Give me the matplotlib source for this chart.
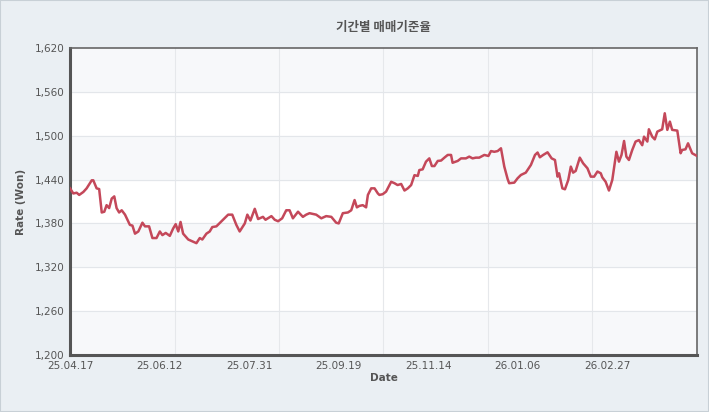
import matplotlib.pyplot as plt
from matplotlib.patches import Rectangle

plt.rcParams['font.family'] = ['DejaVu Sans', 'Noto Sans CJK KR']

# trading-day index of each reading
day = [0, 1.3, 2.6, 3.6, 5.2, 6.5, 8.5, 9.1, 10.4, 11.4, 12.4, 13.4, 14.3, 15.3, 16.3, 17.3,
       18.2, 19.2, 20.2, 21.5, 23.4, 24.4, 25.4, 26.7, 28.3, 29.3, 30.9, 32.2, 33.8, 35.1,
       36.1, 37.4, 39, 40.3, 41.3, 42.3, 43.2, 44.2, 46.2, 48.1, 49.4, 50.7, 51.7, 53.3,
       54.6, 55.6, 57.2, 59.8, 61.8, 63.4, 65, 66.3, 68.3, 69.3, 70.5, 72.2, 73.5, 75.4,
       76.4, 78.7, 80, 81.3, 82.9, 84.5, 85.8, 87.1, 89.1, 91, 92.3, 93.6, 96.2, 98.2,
       100.1, 102.1, 104, 105, 106.6, 108.6, 109.9, 111.2, 112.1, 113.1, 114.4, 115.7,
       116.4, 117.7, 119, 120.3, 120.9,
       122.2, 123.5, 125.5, 126.8, 128, 129.4, 130.7, 132, 133.3, 134.6, 135.9, 136.5,
       137.8, 139.1, 140.4, 141.4, 142.4, 143.7, 145, 146.3, 147.6, 148.9, 149.5, 151.5,
       152.8, 154.7, 156, 157.3, 158.6, 159.9, 161.9, 163.5, 164.5, 165.8, 167.1, 168.4,
       169.7, 171, 171.6, 173.6, 174.9, 176.2, 178.1, 180.1, 181.7, 182.7, 183.6, 184.9,
       186.6, 188.2, 189.5, 190.5, 191.1, 192.4, 193.4, 194.7, 195.7, 196.6, 197.6, 199.2,
       200.5, 202.2, 203.5, 204.8, 206.1, 207.4, 208, 209.3, 210.6, 211.9, 213.5, 214.5,
       215.5, 216.5, 217.4, 218.4, 219.7, 221, 222.3, 223.6, 224.3, 225.6, 226.2, 227.5,
       228.5, 229.5, 231.4, 232.4, 233.4, 234.4, 235.3, 237.3, 238.6, 239.2, 240.5, 241.5,
       243.1, 245]
rate = [1428, 1421, 1422, 1419, 1423, 1428, 1439, 1439, 1428, 1427, 1395, 1396, 1405, 1401,
        1414, 1417, 1401, 1395, 1398, 1392, 1378, 1377, 1366, 1369, 1381, 1376, 1376, 1360,
        1360, 1369, 1364, 1367, 1363, 1373, 1379, 1369, 1382, 1366, 1358, 1355, 1353, 1360,
        1358, 1366, 1369, 1375, 1376, 1385, 1392, 1392, 1378, 1369, 1380, 1392, 1384, 1400,
        1386, 1389, 1385, 1390, 1385, 1383, 1387, 1398, 1398, 1387, 1396, 1389, 1392, 1394,
        1392, 1387, 1390, 1389, 1381, 1380, 1394, 1395, 1398, 1412, 1402, 1404, 1405, 1402,
        1419, 1428, 1428, 1421, 1419,
        1420, 1423.5, 1437, 1435, 1432.5, 1434, 1425, 1428, 1432.5, 1446, 1445, 1453,
        1454, 1464.5, 1469, 1458.5, 1458.5, 1465.5, 1466, 1470, 1473.7, 1473.7, 1463, 1465.5,
        1469, 1469, 1471.4, 1469, 1470, 1470, 1473.7, 1472.3, 1479, 1478, 1479, 1482.8,
        1457.7, 1440.8, 1435, 1435.8, 1441.8, 1446.3, 1449.5, 1460, 1473.7, 1477, 1470.5, 1473.7,
        1477.3, 1469, 1466.8, 1444, 1448.6, 1428, 1426.7, 1439.5, 1457.7, 1449.5, 1451.8, 1470,
        1462.3, 1455.4, 1444, 1444, 1451, 1448.6, 1443, 1437, 1425, 1439.5, 1478, 1464.5,
        1473.7, 1492.8, 1471.4, 1466.8, 1480.5, 1492, 1494, 1487, 1498.7, 1492, 1508.8, 1498.7,
        1495, 1505.6, 1508.8, 1530.7, 1508, 1519.3, 1508, 1507, 1476, 1480.5, 1481.4, 1489.6,
        1476, 1472.3]

tick_pos = [0, 35, 70, 105, 140, 175, 210]
tick_labels = ['25.04.17', '25.06.12', '25.07.31', '25.09.19', '25.11.14', '26.01.06', '26.02.27']
y_ticks = [1200, 1260, 1320, 1380, 1440, 1500, 1560, 1620]

fig = plt.figure(figsize=(7.09, 4.12), dpi=100, facecolor='#eaeff3')
fig.patches.append(Rectangle((0, 0), 1, 1, transform=fig.transFigure, fill=False,
                             edgecolor='#c8d0d6', linewidth=1.5))
ax = fig.add_axes([70 / 709, 1 - 355 / 412, 627 / 709, 307 / 412])
ax.set_facecolor('white')

# alternating horizontal bands (top band shaded)
for i in range(len(y_ticks) - 1):
    if i % 2 == 0:
        ax.axhspan(y_ticks[i], y_ticks[i + 1], color='#f7f8fa', zorder=0)

xmax = 245
for k in range(1, 6):
    ax.axvline(xmax * k / 6, color='#e6e8eb', linewidth=0.8, zorder=1)
for yv in y_ticks[1:-1]:
    ax.axhline(yv, color='#e3e6ea', linewidth=0.8, zorder=1)

ax.plot(day, rate, color='#c4485a', linewidth=1.8, zorder=3)

ax.set_xlim(0, xmax)
ax.set_ylim(1200, 1620)
ax.set_yticks(y_ticks)
ax.set_yticklabels([f'{v:,}' for v in y_ticks])
ax.set_xticks(tick_pos)
ax.set_xticklabels(tick_labels)
ax.tick_params(length=0, labelsize=7.5, labelcolor='#555555', pad=4)

for side in ['left', 'bottom']:
    ax.spines[side].set_linewidth(2.2)
    ax.spines[side].set_color('#555555')
for side in ['top', 'right']:
    ax.spines[side].set_linewidth(1.2)
    ax.spines[side].set_color('#666666')

ax.set_xlabel('Date', fontsize=7.5, fontweight='bold', color='#555555', labelpad=2)
ax.set_ylabel('Rate (Won)', fontsize=7.5, fontweight='bold', color='#555555', labelpad=6)
fig.text(383 / 709, 1 - 28 / 412, '기간별 매매기준율', ha='center', va='center',
         fontsize=9, fontweight='bold', color='#555555',
         family=['Noto Sans CJK KR', 'DejaVu Sans'])

plt.savefig('out.png', dpi=100, facecolor=fig.get_facecolor())
plt.close()
